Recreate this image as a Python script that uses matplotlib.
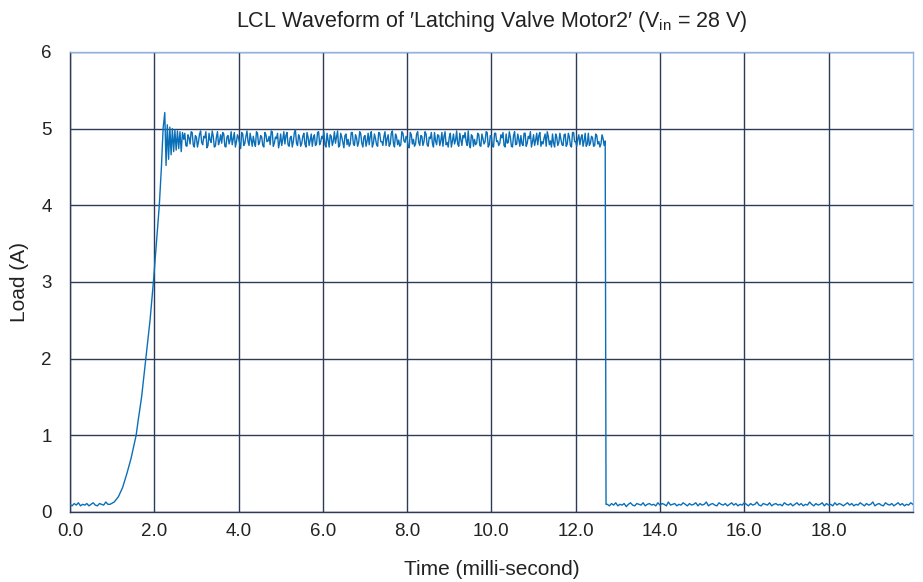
import numpy as np
import matplotlib.pyplot as plt

plt.rcParams['font.family'] = ['Liberation Sans', 'DejaVu Sans']
plt.rcParams['mathtext.fontset'] = 'custom'
plt.rcParams['mathtext.rm'] = 'Liberation Sans'
plt.rcParams['mathtext.it'] = 'Liberation Sans'

# --- data (load current in A, time in ms) ---
dt = 0.05

# idle before switch-on, t = 0.00 .. 0.90 (values x0.01 A)
idle_start = [10, 8, 11, 9, 12, 8, 10, 9, 11, 8, 10, 12, 9, 8, 11, 10, 9, 13, 10]

# inrush ramp and first ringing
rise_t = [0.95, 1.05, 1.15, 1.25, 1.35, 1.45, 1.57, 1.62, 1.70, 1.80, 1.90, 1.98,
          2.05, 2.12, 2.17, 2.21, 2.25, 2.28, 2.31, 2.34, 2.37, 2.40, 2.43, 2.46,
          2.49, 2.52, 2.55, 2.58, 2.61, 2.64, 2.67]
rise_a = [0.10, 0.13, 0.20, 0.32, 0.50, 0.70, 1.00, 1.20, 1.50, 2.00, 2.50, 3.00,
          3.50, 4.00, 4.50, 5.00, 5.21, 4.52, 5.05, 4.60, 5.02, 4.66, 5.00, 4.70,
          4.98, 4.72, 4.97, 4.74, 4.96, 4.70, 4.95]

# plateau, t = 2.70 .. 12.70 on the 0.05 grid (values x0.01 A)
plateau = [
    486, 478, 492, 480, 495, 476, 489, 483, 497, 479, 488, 475, 494, 482, 490, 477, 496, 484, 481, 493,
    476, 491, 485, 479, 495, 483, 488, 474, 493, 481, 497, 478, 486, 490, 477, 494, 482, 489, 476, 492,
    484, 479, 496, 481, 487, 475, 493, 486, 480, 495, 477, 490, 483, 498, 478, 488, 481, 494, 476, 489,
    485, 477, 492, 480, 496, 483, 487, 479, 494, 476, 490, 484, 481, 497, 478, 489, 475, 493, 486, 480,
    495, 478, 488, 482, 493, 476, 491, 484, 479, 496, 481, 487, 477, 494, 483, 490, 478, 492, 480, 497,
    476, 489, 485, 479, 494, 482, 488, 475, 492, 486, 480, 496, 478, 490, 483, 493, 477, 487, 481, 495,
    479, 491, 484, 477, 496, 482, 489, 476, 493, 485, 480, 494, 478, 488, 483, 497, 475, 490, 486, 481,
    492, 477, 487, 483, 495, 479, 490, 476, 494, 484, 481, 488, 478, 493, 482, 489, 476, 496, 480, 486,
    491, 478, 494, 481, 487, 476, 492, 485, 479, 495, 483, 488, 477, 490, 484, 493, 476, 489, 482, 486,
    478, 493, 480, 489, 476, 495, 483, 487, 479, 492, 484, 477, 494, 481, 488, 478, 491, 483, 480, 487,
    484,
]
# plateau samples half-way between the ones above (x0.01 A)
plateau_mid = [
    494, 477, 488, 496, 479, 491, 476, 493, 482, 490, 496, 478, 485, 497, 476, 489, 479, 492, 495, 477,
    489, 480, 496, 487, 476, 492, 481, 495, 478, 490, 483, 494, 477, 482, 496, 479, 491, 478, 495, 483,
    490, 497, 477, 489, 494, 482, 478, 496, 491, 479, 488, 476, 495, 481, 492, 477, 490, 480, 495, 478,
    493, 488, 478, 495, 479, 490, 496, 476, 485, 492, 478, 496, 489, 476, 494, 482, 491, 479, 477, 495,
    480, 492, 477, 496, 481, 489, 477, 494, 490, 476, 493, 479, 495, 483, 478, 496, 487, 477, 494, 481,
    493, 479, 477, 496, 484, 490, 476, 495, 480, 477, 493, 482, 491, 478, 496, 479, 489, 495, 476, 484,
    492, 478, 495, 490, 479, 476, 494, 484, 480, 497, 477, 486, 491, 495, 478, 480, 492, 477, 479, 494,
    478, 493, 480, 496, 476, 491, 477, 494, 483, 478, 492, 495, 476, 481, 496, 477, 491, 479, 493, 477,
    480, 494, 477, 490, 496, 483, 478, 494, 491, 477, 480, 493, 496, 479, 476, 481, 493, 478, 494, 479,
    492, 477, 494, 478, 495, 483, 477, 492, 488, 477, 494, 480, 478, 490, 477, 493, 480, 476, 492, 478,
]
t_off = 12.72

# after switch-off, t = 12.75 .. 20.00 (values x0.01 A)
idle_end = [
    10, 8, 11, 9, 12, 8, 10, 9, 11, 7, 10, 12, 9, 8, 11, 10, 9, 12, 8, 10,
    11, 9, 10, 8, 12, 9, 11, 10, 8, 13, 9, 10, 11, 8, 10, 9, 12, 10, 8, 11,
    9, 10, 12, 8, 11, 9, 10, 13, 8, 10, 11, 9, 8, 12, 10, 9, 11, 8, 10, 12,
    9, 11, 8, 10, 9, 12, 10, 8, 11, 9, 10, 13, 9, 8, 11, 10, 9, 12, 8, 10,
    11, 9, 10, 8, 12, 10, 9, 11, 8, 10, 12, 9, 11, 8, 10, 9, 13, 10, 8, 11,
    9, 10, 12, 8, 11, 9, 10, 8, 12, 9, 11, 10, 8, 10, 12, 9, 11, 8, 10, 9,
    12, 10, 8, 11, 9, 10, 13, 8, 10, 11, 9, 8, 12, 10, 9, 11, 8, 10, 12, 9,
    11, 8, 10, 9, 12, 10,
]

x_ticks = [0, 2, 4, 6, 8, 10, 12, 14, 16, 18]
y_ticks = [0, 1, 2, 3, 4, 5, 6]

# build the trace: interleave plateau samples with the half-step ones
t_main = 2.70 + np.arange(len(plateau)) * dt
t_mid = t_main[:-1] + dt / 2
t3 = np.empty(len(t_main) + len(t_mid))
a3 = np.empty_like(t3)
t3[0::2], t3[1::2] = t_main, t_mid
a3[0::2], a3[1::2] = np.array(plateau) / 100, np.array(plateau_mid) / 100

t1 = np.arange(len(idle_start)) * dt
t4 = 12.75 + np.arange(len(idle_end)) * dt
t = np.concatenate([t1, rise_t, t3, [t_off], t4])
a = np.concatenate([np.array(idle_start) / 100, rise_a, a3,
                    [idle_end[0] / 100], np.array(idle_end) / 100])

fig = plt.figure(figsize=(9.23, 5.82), dpi=100)
ax = fig.add_axes([0.0758, 0.1203, 0.9132, 0.7904])

ax.plot(t, a, color='#0b6fb8', lw=1.0, zorder=3)

ax.set_xlim(0, 20)
ax.set_ylim(0, 6)
ax.set_xticks(x_ticks)
ax.set_xticklabels([f'{v:.1f}' for v in x_ticks])
ax.set_yticks(y_ticks)
ax.grid(True, color='#2d3b58', lw=1.0, zorder=1)
ax.tick_params(length=0, labelsize=13.5, colors='#222222')
ax.tick_params(axis='x', pad=8)
ax.tick_params(axis='y', pad=13)

for s in ['left', 'bottom']:
    ax.spines[s].set_color('#2d3b58')
    ax.spines[s].set_linewidth(1.0)
for s in ['top', 'right']:
    ax.spines[s].set_color('#8fb4e3')
    ax.spines[s].set_linewidth(1.0)

ax.set_xlabel('Time (milli-second)', fontsize=15, color='#222222', labelpad=14)
ax.set_ylabel('Load (A)', fontsize=15, color='#222222', labelpad=9)
ax.set_title('LCL Waveform of \u2032Latching Valve Motor2\u2032 (V$_{\\mathregular{in}}$ = 28 V)',
             fontsize=15.5, color='#222222', pad=18)

fig.savefig('out.png', dpi=100)
